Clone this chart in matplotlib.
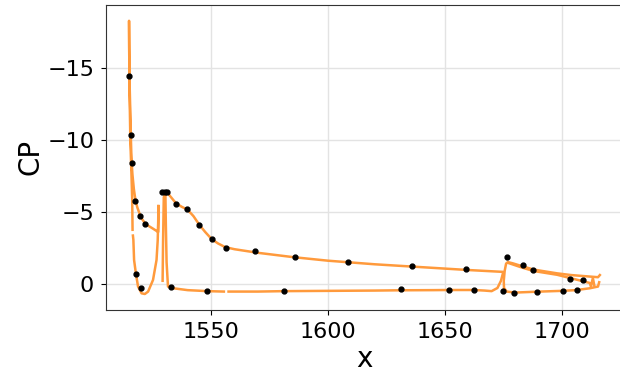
import numpy as np
import matplotlib
matplotlib.use("Agg")
import matplotlib.pyplot as plt

# computed surface pressure, one polyline per element (nan = break in the curve)
slat_x = [1527.5, 1527.4, 1525.0, 1523.0, 1521.8, 1520.5, 1519.5, 1518.5, 1517.7, 1517.0,
          1516.4, 1516.0, 1515.7, 1515.4, 1515.1, 1515.0, 1514.95,
          1515.1, 1515.5, 1516.0, 1516.3, 1516.45, np.nan,
          1516.6, 1516.8, 1517.1, 1517.9, 1518.8, 1520.3, 1521.7, 1523.1, 1525.2, 1526.7,
          1527.2, 1527.4, 1527.5]
slat_cp = [-5.4, -3.6, -3.85, -4.05, -4.2, -4.5, -4.85, -5.3, -5.8, -6.6,
           -7.6, -8.6, -10.3, -12.5, -14.5, -16.5, -18.3,
           -14.0, -10.0, -7.5, -5.8, -3.75, np.nan,
           -3.35, -3.05, -1.65, -0.68, 0.2, 0.67, 0.72, 0.55, -0.26, -1.65,
           -3.0, -4.2, -5.4]

main_x = [1529.3, 1529.5, 1529.8, 1530.5, 1531.5, 1533.0, 1535.0, 1537.5, 1540.0, 1542.5,
          1545.0, 1547.5, 1550.3, 1553.0, 1556.0, 1560.0, 1570.0, 1585.0, 1600.0, 1620.0,
          1640.0, 1660.0, 1675.0,
          1674.0, 1672.5, 1670.0, 1667.0, 1662.5, 1652.0, 1645.0, 1631.0, 1620.0, 1600.0,
          1581.0, 1570.0, 1557.5, np.nan, 1555.5, 1548.5, 1540.0, 1533.0, 1531.6, 1531.0,
          1530.7, 1530.5]
main_cp = [-0.2, -3.0, -6.0, -6.4, -6.3, -6.0, -5.6, -5.35, -5.15, -4.7,
           -4.1, -3.6, -3.1, -2.8, -2.55, -2.4, -2.15, -1.85, -1.6, -1.35,
           -1.15, -0.95, -0.82,
           -0.2, 0.3, 0.52, 0.48, 0.44, 0.44, 0.45, 0.46, 0.48, 0.5,
           0.52, 0.55, 0.55, np.nan, 0.55, 0.52, 0.45, 0.3, 0.2, -1.5,
           -4.0, -6.2]

flap_x = [1716.3, 1715.5, 1704.0, 1698.0, 1688.0, 1683.0, 1679.0, 1677.0, 1676.2, 1675.6,
          1675.2, 1675.3, 1676.5, 1680.0, 1689.0, 1700.0, 1706.0, 1712.0, 1715.5, 1716.0]
flap_cp = [-0.6, -0.45, -0.6, -0.72, -0.98, -1.22, -1.42, -1.5, -1.4, -0.9,
           -0.2, 0.3, 0.55, 0.62, 0.56, 0.5, 0.45, 0.32, 0.2, -0.1]

flap2_x = [1677.0, 1683.0, 1688.0, 1698.0, 1712.0, 1712.5, 1713.3, 1714.0]
flap2_cp = [-1.45, -1.12, -0.88, -0.62, -0.05, 0.2, -0.4, 0.2]

# measured pressure taps
exp_x = [1515.0, 1515.7, 1516.0, 1517.7, 1519.7, 1521.8, 1517.9, 1519.9,
         1529.2, 1530.3, 1531.0, 1535.0, 1539.9, 1545.0, 1550.3, 1556.2, 1568.7,
         1585.8, 1608.4, 1635.9, 1659.1, 1532.7, 1548.4, 1581.1, 1631.2, 1651.7,
         1662.5, 1676.4, 1683.4, 1687.9, 1703.6, 1709.1, 1674.7, 1679.4, 1689.3,
         1700.7, 1706.4]
exp_cp = [-14.46, -10.33, -8.4, -5.76, -4.71, -4.16, -0.68, 0.28,
          -6.36, -6.36, -6.36, -5.53, -5.2, -4.07, -3.09, -2.51, -2.3,
          -1.84, -1.49, -1.23, -1.02, 0.25, 0.53, 0.49, 0.39, 0.42,
          0.42, -1.84, -1.3, -0.93, -0.31, -0.24, 0.53, 0.65, 0.56,
          0.51, 0.46]

line_color = "#ff9a3c"

fig = plt.figure(figsize=(6.2, 3.73), dpi=100)
ax = fig.add_axes([0.171, 0.169, 0.835, 0.818])

for xs, cps in [(slat_x, slat_cp), (main_x, main_cp), (flap_x, flap_cp), (flap2_x, flap2_cp)]:
    ax.plot(xs, cps, color=line_color, lw=1.8, zorder=2)
ax.plot(exp_x, exp_cp, "o", color="black", ms=3.5, zorder=3)

ax.set_xlim(1505.1, 1726.5)
ax.set_ylim(1.83, -19.41)
ax.set_xticks([1550, 1600, 1650, 1700])
ax.set_yticks([-15, -10, -5, 0])
ax.grid(True, color="#e3e3e3", lw=1.0)
ax.set_axisbelow(True)
ax.tick_params(labelsize=16, pad=5)
ax.set_xlabel("x", fontsize=20, labelpad=2)
ax.set_ylabel("CP", fontsize=20, labelpad=2)
for s in ax.spines.values():
    s.set_color("#333333")

fig.savefig("out.png", dpi=100)
